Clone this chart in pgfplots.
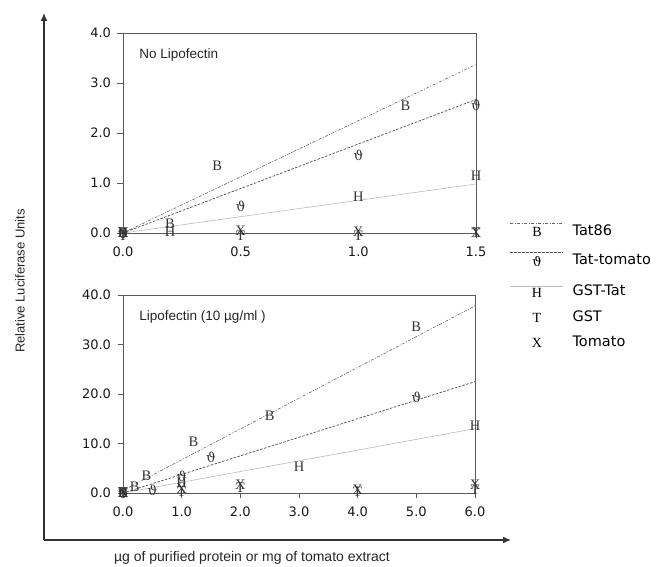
\documentclass[border=0pt]{standalone}
\usepackage{pgfplots}
\pgfplotsset{compat=1.18}
\usetikzlibrary{arrows.meta}
\usepackage{fontspec}
\setmainfont{Liberation Sans}
\newfontfamily\tickfont{DejaVu Sans}
\newfontfamily\markfont{Liberation Serif}
\newfontfamily\thetafont{DejaVu Serif}
\definecolor{axgray}{gray}{0.35}
\begin{document}
\begin{tikzpicture}
\useasboundingbox (0pt,0pt) rectangle (657pt,567pt);
\pgfplotsset{
  panel/.style={
    scale only axis, clip=false,
    axis line style={axgray, line width=0.8pt},
    every tick/.style={axgray, line width=0.8pt},
    tick align=outside, major tick length=5.5pt,
    xtick pos=left, ytick pos=left,
    /pgf/number format/assume math mode=true,
    ticklabel style={font=\tickfont\fontsize{13}{15}\selectfont, text=black!90},
    yticklabel style={xshift=-3pt},
    xticklabel style={yshift=-5pt},
    /pgf/number format/.cd, fixed, fixed zerofill, precision=1,
  },
  mk/.style={only marks, mark=text, text mark={#1}, text mark as node=true,
    text mark style={font=\markfont\fontsize{14.5}{15}\selectfont, text=black!80, inner sep=0pt}},
  mkth/.style={only marks, mark=text, text mark={ϑ}, text mark as node=true,
    text mark style={font=\thetafont\fontsize{13.5}{15}\selectfont, text=black!80, inner sep=0pt}},
  fitA/.style={no marks, gray!80!black, line width=0.6pt, dash pattern=on 3pt off 1.5pt on 1pt off 1.5pt},
  fitB/.style={no marks, black!70, line width=0.7pt, dash pattern=on 2.5pt off 1.5pt},
  fitC/.style={no marks, gray!55, line width=0.6pt},
}
% top panel
\begin{axis}[panel, at={(123pt,334pt)}, anchor=south west, width=353pt, height=200pt,
  xmin=0, xmax=1.5, ymin=0, ymax=4, xtick={0,0.5,1,1.5}, ytick={0,1,2,3,4}]
\addplot[fitA] coordinates {(0,0) (1.5,3.37)};
\addplot[fitB] coordinates {(0,0) (1.5,2.67)};
\addplot[fitC] coordinates {(0,0) (1.5,0.98)};
\addplot[mk=B] coordinates {(0,0) (0.2,0.18) (0.4,1.35) (1.2,2.55)};
\addplot[mkth] coordinates {(0,0) (0.5,0.53) (1.0,1.55) (1.5,2.55)};
\addplot[mk=H] coordinates {(0,0) (0.2,0.03) (1.0,0.73) (1.5,1.15)};
\addplot[mk=T] coordinates {(0,-0.05) (0.5,-0.06) (1.0,-0.06) (1.5,0.0)};
\addplot[mk=X] coordinates {(0,0) (0.5,0.05) (1.0,0.03) (1.5,0.0)};
\node[anchor=west, font=\fontsize{13.5}{15}\selectfont, text=black!85] at (axis cs:0.055,3.55) {No Lipofectin};
\end{axis}
% bottom panel
\begin{axis}[panel, at={(123pt,74pt)}, anchor=south west, width=352pt, height=198pt,
  xmin=0, xmax=6, ymin=0, ymax=40, xtick={0,1,2,3,4,5,6}, ytick={0,10,20,30,40}]
\addplot[fitA] coordinates {(0,0.5) (6,37.8)};
\addplot[fitB] coordinates {(0,0) (6,22.5)};
\addplot[fitC] coordinates {(0,0) (6,13.0)};
\addplot[mk=B] coordinates {(0,0) (0.2,1.3) (0.4,3.4) (1.2,10.3) (2.5,15.5) (5.0,33.5)};
\addplot[mkth] coordinates {(0,0) (0.5,0.6) (1.0,3.3) (1.5,7.2) (5.0,19.3)};
\addplot[mk=H] coordinates {(0,0) (1.0,2.0) (3.0,5.4) (6.0,13.5)};
\addplot[mk=T] coordinates {(0,0) (1.0,0.3) (2.0,1.0) (4.0,0.2) (6.0,0.6)};
\addplot[mk=X] coordinates {(0,0) (1.0,0.9) (2.0,1.6) (4.0,0.6) (6.0,1.6)};
\node[anchor=west, font=\fontsize{13.5}{15}\selectfont, text=black!85] at (axis cs:0.22,35.5) {Lipofectin (10 µg/ml )};
\end{axis}
% big arrows
\draw[black!80, line width=1.3pt, -{Latex[length=8pt,width=7pt]}] (44pt,27pt) -- (44pt,554pt);
\draw[black!80, line width=1.3pt, -{Latex[length=8pt,width=7pt]}] (44pt,27pt) -- (511pt,27pt);
\node[rotate=90, font=\fontsize{13}{15}\selectfont, text=black!85] at (20pt,286pt) {Relative Luciferase Units};
\node[font=\fontsize{14}{16}\selectfont, text=black!85] at (252pt,9pt) {µg of purified protein or mg of tomato extract};
% legend
\begin{scope}[font=\tickfont\fontsize{14.5}{16}\selectfont]
\draw[gray!80!black, line width=0.6pt, dash pattern=on 3pt off 1.5pt on 1pt off 1.5pt] (510pt,344pt) -- (563pt,344pt);
\node[font=\markfont\fontsize{14}{15}\selectfont] at (537pt,335pt) {B};
\node[anchor=west] at (569pt,337pt) {Tat86};
\draw[black!70, line width=0.7pt, dash pattern=on 2.5pt off 1.5pt] (510pt,315pt) -- (563pt,315pt);
\node[font=\thetafont\fontsize{13}{15}\selectfont] at (537pt,305pt) {ϑ};
\node[anchor=west] at (569pt,308pt) {Tat-tomato};
\draw[gray!55, line width=0.6pt] (510pt,281pt) -- (563pt,281pt);
\node[font=\markfont\fontsize{14}{15}\selectfont] at (537pt,274pt) {H};
\node[anchor=west] at (569pt,277pt) {GST-Tat};
\node[font=\markfont\fontsize{14}{15}\selectfont] at (537pt,249pt) {T};
\node[anchor=west] at (569pt,251pt) {GST};
\node[font=\markfont\fontsize{14}{15}\selectfont] at (537pt,224pt) {X};
\node[anchor=west] at (569pt,226pt) {Tomato};
\end{scope}
\end{tikzpicture}
\end{document}
